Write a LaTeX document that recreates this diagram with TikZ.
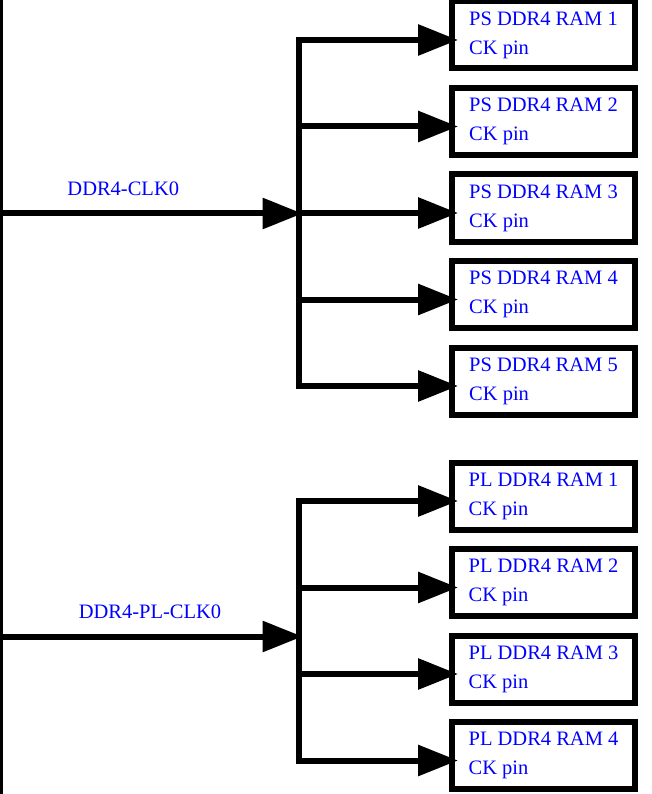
\documentclass[tikz,border=0pt]{standalone}
\usepackage{fontspec}
\setmainfont{Liberation Serif}
\usetikzlibrary{arrows.meta,positioning,calc}

\begin{document}
\begin{tikzpicture}[
  x=1pt, y=-1pt,
  font=\fontsize{20.5}{29}\selectfont,
  node distance=13.5pt,
  ram/.style={rectangle, draw, line width=6pt, minimum width=183pt, minimum height=67pt, inner sep=0pt, align=left, text=blue},
  wire/.style={line width=6pt},
  sig/.style={wire, -{Triangle[length=40pt 0, width=30pt 0]}},
  lbl/.style={text=blue, above=11pt}
]
  \useasboundingbox (0,0) rectangle (651,794);

  % RAM boxes
  \node[ram] (ps1) at (543.5,35) {PS DDR4 RAM 1\\CK pin};
  \node[ram, below=of ps1] (ps2) {PS DDR4 RAM 2\\CK pin};
  \node[ram, below=of ps2] (ps3) {PS DDR4 RAM 3\\CK pin};
  \node[ram, below=of ps3] (ps4) {PS DDR4 RAM 4\\CK pin};
  \node[ram, below=of ps4] (ps5) {PS DDR4 RAM 5\\CK pin};
  \node[ram, below=42pt of ps5] (pl1) {PL DDR4 RAM 1\\CK pin};
  \node[ram, below=of pl1] (pl2) {PL DDR4 RAM 2\\CK pin};
  \node[ram, below=of pl2] (pl3) {PL DDR4 RAM 3\\CK pin};
  \node[ram, below=of pl3] (pl4) {PL DDR4 RAM 4\\CK pin};

  % clock source rail and split points
  \coordinate (rail top) at (1.5,0);
  \coordinate (rail bot) at (1.5,794);
  \coordinate (psin) at (1.5,213.5);
  \coordinate (plin) at (1.5,636.5);
  \coordinate (psjoin) at (298.5,213.5);
  \coordinate (pljoin) at (298.5,636.5);

  \draw[line width=3pt] (rail top) -- (rail bot);

  \draw[sig, shorten >=-4pt] (psin) -- node[lbl, pos=0.41] (lps) {DDR4-CLK0} (psjoin);
  \draw[sig, shorten >=-4pt] (plin) -- node[lbl] (lpl) {DDR4-PL-CLK0} (pljoin);

  % fan-out to the PS rams
  \foreach \n in {1,...,5} {
    \coordinate (psa\n) at ([yshift=-5pt]ps\n.west);
    \coordinate (psb\n) at (psa\n -| psjoin);
    \draw[sig, shorten >=-9pt] (psb\n) -- (psa\n);
  }
  \draw[wire, line cap=rect] (psb1) -- (psb5);

  % fan-out to the PL rams
  \foreach \n in {1,...,4} {
    \coordinate (pla\n) at ([yshift=-5pt]pl\n.west);
    \coordinate (plb\n) at (pla\n -| pljoin);
    \draw[sig, shorten >=-9pt] (plb\n) -- (pla\n);
  }
  \draw[wire, line cap=rect] (plb1) -- (plb4);
\end{tikzpicture}
\end{document}
